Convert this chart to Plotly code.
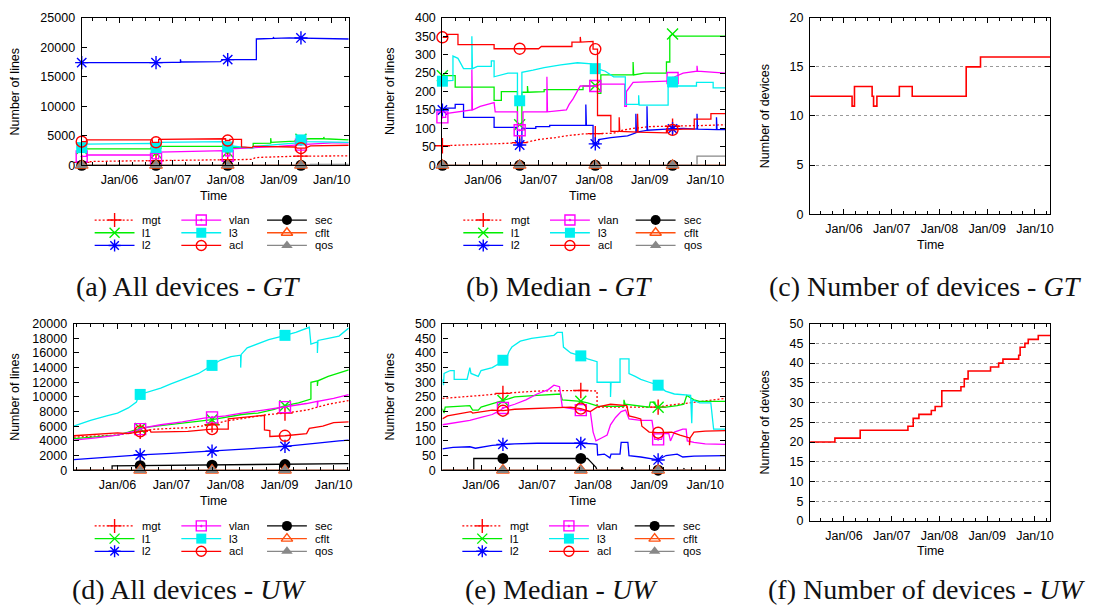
import plotly.graph_objects as go

W, H = 1110, 615

# ---------------- tick labels / categories ----------------
YEAR_TICKS = [2006, 2007, 2008, 2009, 2010]
YEAR_LABELS = ["Jan/06", "Jan/07", "Jan/08", "Jan/09", "Jan/10"]
SERIES = ["mgt", "l1", "l2", "vlan", "l3", "acl", "sec", "cflt", "qos"]

# ---------------- (a) All devices - GT : (time in years, number of lines) ----------------
A_MGT = [(2005.29, 500), (2005.5, 650), (2006.0, 720), (2006.69, 780), (2007.3, 850), (2007.8, 900),
         (2008.2, 950), (2008.5, 1000), (2008.55, 1250), (2008.65, 1350), (2009.0, 1450),
         (2009.42, 1550), (2010.32, 1600)]
A_L1 = [(2005.29, 2800), (2006.62, 2800), (2006.62, 2100), (2006.74, 2100), (2006.74, 3200),
        (2008.0, 3200), (2008.0, 2300), (2008.08, 2300), (2008.08, 3000), (2008.52, 3000),
        (2008.52, 3700), (2008.85, 3750), (2008.85, 4600), (2008.86, 3900), (2009.3, 4100),
        (2009.35, 4400), (2009.6, 4500), (2009.85, 4500), (2009.85, 4800), (2009.86, 4500),
        (2010.32, 4300)]
A_L2 = [(2005.29, 17400), (2006.0, 17350), (2006.69, 17400), (2007.0, 17450), (2007.15, 17450),
        (2007.15, 17950), (2007.16, 17500), (2007.9, 17550), (2007.95, 17900), (2008.58, 17900),
        (2008.58, 21400), (2008.9, 21500), (2008.9, 21750), (2008.91, 21500), (2009.2, 21600),
        (2009.7, 21550), (2010.32, 21400)]
A_VLAN = [(2005.29, 1500), (2005.38, 1500), (2005.38, 1750), (2006.62, 1750), (2006.62, 1100),
          (2006.74, 1100), (2006.74, 2250), (2008.0, 2500), (2008.0, 1600), (2008.08, 1600),
          (2008.08, 2800), (2008.6, 3000), (2009.0, 3200), (2009.42, 3500), (2010.0, 3800),
          (2010.32, 3800)]
A_L3 = [(2005.29, 3000), (2005.38, 3000), (2005.38, 3600), (2006.62, 3700), (2006.62, 3000),
        (2006.74, 3000), (2006.74, 3900), (2008.0, 4000), (2008.0, 3100), (2008.08, 3100),
        (2008.08, 3300), (2008.3, 3100), (2008.5, 2900), (2008.55, 3200), (2009.0, 3600),
        (2009.35, 3800), (2009.35, 4300), (2009.5, 4300), (2009.5, 4000), (2010.32, 3900)]
A_ACL = [(2005.29, 4000), (2005.38, 4000), (2005.38, 4300), (2006.62, 4300), (2006.62, 3900),
         (2006.74, 3900), (2006.74, 4400), (2008.0, 4500), (2008.0, 4200), (2008.08, 4200),
         (2008.08, 4400), (2008.3, 4400), (2008.3, 3100), (2008.5, 3000), (2008.52, 3200),
         (2009.3, 3100), (2009.35, 2900), (2009.5, 2900), (2009.6, 3300), (2010.32, 3400)]
A_SEC = [(2005.29, 0), (2010.32, 0)]
A_CFLT = [(2005.29, 0), (2010.32, 0)]
A_QOS = [(2005.29, 0), (2009.6, 0), (2009.6, 150), (2010.32, 150)]
A_MARKS = [2005.29, 2006.69, 2008.04, 2009.42]

# ---------------- (b) Median - GT ----------------
B_MGT = [(2005.27, 53), (2005.7, 55), (2006.2, 58), (2006.5, 60), (2006.8, 63), (2007.0, 70),
         (2007.3, 75), (2007.5, 80), (2007.8, 85), (2008.35, 87), (2008.5, 95), (2008.7, 100),
         (2009.0, 105), (2009.5, 106), (2010.0, 108), (2010.36, 110)]
B_L1 = [(2005.27, 243), (2005.5, 243), (2005.5, 212), (2006.2, 212), (2006.2, 176), (2006.33, 176),
        (2006.33, 200), (2006.62, 200), (2006.62, 110), (2006.7, 110), (2006.7, 198), (2006.8, 198),
        (2006.8, 215), (2006.81, 198), (2007.1, 200), (2007.1, 205), (2007.8, 205), (2007.8, 215),
        (2007.98, 215), (2008.06, 218), (2008.06, 195), (2008.12, 195), (2008.12, 245), (2008.7, 245),
        (2008.7, 280), (2008.71, 245), (2008.9, 250), (2009.3, 250), (2009.3, 280), (2009.36, 280),
        (2009.36, 350), (2009.41, 356), (2009.45, 350), (2010.36, 350)]
B_L2 = [(2005.27, 150), (2005.35, 155), (2005.5, 155), (2005.5, 165), (2005.65, 165), (2005.65, 130),
        (2006.2, 130), (2006.2, 103), (2006.62, 103), (2006.62, 55), (2006.7, 55), (2006.7, 100),
        (2006.95, 100), (2006.95, 105), (2007.2, 105), (2007.2, 108), (2007.85, 108), (2007.85, 165),
        (2007.86, 108), (2007.98, 108), (2007.98, 58), (2008.08, 58), (2008.08, 70), (2008.3, 75),
        (2008.6, 80), (2008.75, 88), (2008.75, 140), (2008.76, 90), (2008.95, 95), (2008.95, 160),
        (2008.96, 95), (2009.3, 98), (2009.6, 100), (2009.85, 98), (2009.85, 140), (2009.86, 98),
        (2010.2, 97), (2010.2, 130), (2010.21, 97), (2010.36, 97)]
B_VLAN = [(2005.27, 130), (2005.33, 130), (2005.33, 140), (2005.6, 145), (2005.8, 150), (2005.8, 260),
          (2005.81, 150), (2005.95, 160), (2006.2, 170), (2006.22, 145), (2006.62, 145), (2006.62, 95),
          (2006.72, 95), (2006.72, 145), (2007.15, 145), (2007.15, 240), (2007.16, 145), (2007.5, 150),
          (2007.55, 165), (2007.62, 180), (2007.75, 215), (2008.06, 215), (2008.1, 220), (2008.55, 220),
          (2008.55, 160), (2008.58, 160), (2008.58, 200), (2008.7, 225), (2009.3, 228), (2009.45, 240),
          (2009.6, 250), (2009.85, 255), (2009.85, 270), (2009.86, 255), (2010.36, 250)]
B_L3 = [(2005.27, 228), (2005.46, 230), (2005.46, 296), (2005.55, 290), (2005.65, 262), (2005.8, 262),
        (2005.8, 350), (2005.81, 262), (2005.9, 268), (2006.15, 268), (2006.15, 283), (2006.2, 283),
        (2006.2, 240), (2006.45, 250), (2006.62, 250), (2006.62, 175), (2006.7, 175), (2006.7, 252),
        (2006.9, 258), (2007.1, 265), (2007.4, 272), (2007.7, 278), (2007.95, 275), (2007.98, 262),
        (2008.06, 262), (2008.2, 255), (2008.35, 240), (2008.56, 240), (2008.56, 165), (2008.8, 165),
        (2008.8, 190), (2008.81, 163), (2009.33, 163), (2009.33, 210), (2009.38, 226), (2009.45, 226),
        (2009.45, 215), (2009.84, 215), (2009.84, 225), (2010.14, 225), (2010.14, 210), (2010.36, 210)]
B_ACL = [(2005.27, 347), (2005.35, 347), (2005.35, 355), (2005.55, 355), (2005.55, 327), (2006.2, 327),
         (2006.2, 316), (2007.0, 316), (2007.05, 322), (2007.6, 322), (2007.6, 334), (2007.75, 334),
         (2007.75, 348), (2007.76, 334), (2007.98, 336), (2007.98, 315), (2008.06, 315), (2008.06, 135),
         (2008.3, 135), (2008.3, 92), (2008.45, 92), (2008.45, 130), (2008.46, 92), (2008.78, 90),
         (2008.78, 140), (2008.79, 90), (2009.3, 88), (2009.3, 95), (2009.6, 98), (2009.8, 98),
         (2009.8, 125), (2010.1, 125), (2010.1, 140), (2010.36, 140)]
B_SEC = [(2005.27, 0), (2010.36, 0)]
B_CFLT = [(2005.27, 0), (2010.36, 0)]
B_QOS = [(2005.27, 0), (2009.85, 0), (2009.85, 25), (2010.36, 25)]
B_MARKS = [2005.27, 2006.66, 2008.02, 2009.41]

# ---------------- (c) Number of devices - GT ----------------
C_DEV = [(2005.29, 12), (2006.17, 11), (2006.22, 13), (2006.59, 12), (2006.62, 11), (2006.69, 12),
         (2007.16, 13), (2007.43, 12), (2008.56, 15), (2008.86, 16), (2010.32, 16)]

# ---------------- (d) All devices - UW ----------------
D_MGT = [(2005.19, 4500), (2006.0, 4800), (2006.42, 5300), (2006.7, 5600), (2007.3, 5800),
         (2007.75, 6200), (2008.0, 6700), (2008.4, 7200), (2008.8, 7600), (2009.1, 7800),
         (2009.5, 8200), (2009.65, 8500), (2009.9, 9000), (2010.2, 9400), (2010.28, 9500)]
D_L1 = [(2005.19, 4300), (2005.5, 4500), (2006.0, 4800), (2006.2, 5200), (2006.42, 5700),
        (2006.6, 5900), (2007.0, 6200), (2007.4, 6600), (2007.75, 6900), (2008.0, 7200),
        (2008.3, 7600), (2008.6, 7800), (2008.9, 8300), (2009.1, 8800), (2009.35, 9200),
        (2009.58, 9700), (2009.58, 12000), (2009.7, 12200), (2009.7, 11500), (2009.71, 12200),
        (2009.9, 12800), (2010.1, 13300), (2010.28, 13700)]
D_L2 = [(2005.19, 1450), (2005.6, 1700), (2006.2, 2000), (2006.42, 2100), (2007.0, 2300),
        (2007.75, 2600), (2008.3, 2800), (2008.6, 3000), (2009.1, 3250), (2009.5, 3500),
        (2009.7, 3700), (2010.1, 4000), (2010.28, 4100)]
D_VLAN = [(2005.19, 4100), (2005.6, 4400), (2006.0, 4800), (2006.3, 5300), (2006.5, 5800),
          (2006.8, 6200), (2007.2, 6600), (2007.6, 7100), (2008.0, 7400), (2008.3, 7800),
          (2008.7, 8200), (2009.0, 8500), (2009.2, 8700), (2009.5, 9100), (2009.7, 9400),
          (2009.7, 8600), (2009.71, 9400), (2010.0, 9800), (2010.28, 10300)]
D_L3 = [(2005.19, 6000), (2005.5, 6800), (2005.8, 7400), (2006.0, 7800), (2006.2, 8500),
        (2006.35, 9300), (2006.4, 10300), (2006.6, 10700), (2006.8, 11200), (2007.0, 11800),
        (2007.3, 12600), (2007.5, 13200), (2007.75, 14300), (2007.9, 15000), (2008.1, 15500),
        (2008.28, 15700), (2008.28, 14000), (2008.29, 15800), (2008.4, 16700), (2008.6, 17300),
        (2008.8, 17800), (2009.0, 18200), (2009.3, 18800), (2009.55, 19500), (2009.58, 17200),
        (2009.7, 17500), (2009.7, 16000), (2009.71, 17700), (2009.9, 18000), (2010.1, 18300),
        (2010.28, 19400)]
D_ACL = [(2005.19, 4700), (2005.7, 4900), (2006.0, 5100), (2006.2, 5000), (2006.42, 5300),
         (2006.6, 5500), (2006.62, 5200), (2007.3, 5300), (2007.75, 5600), (2008.05, 5600),
         (2008.05, 7000), (2008.4, 7200), (2008.6, 7400), (2008.72, 7500), (2008.72, 5500),
         (2008.82, 5400), (2008.82, 4600), (2009.1, 4700), (2009.3, 4800), (2009.5, 5000),
         (2009.55, 5700), (2009.8, 6000), (2010.0, 6500), (2010.28, 6600)]
D_SEC = [(2005.19, 0), (2005.9, 0), (2005.9, 600), (2007.0, 650), (2008.0, 700), (2009.0, 750),
         (2009.5, 850), (2010.28, 900)]
D_CFLT = [(2005.19, 0), (2010.28, 0)]
D_QOS = [(2005.19, 0), (2010.28, 0)]
D_MARKS = [2006.42, 2007.75, 2009.10]

# ---------------- (e) Median - UW ----------------
E_MGT = [(2005.31, 245), (2005.7, 250), (2006.0, 255), (2006.39, 262), (2006.6, 265), (2007.0, 270),
         (2007.78, 272), (2008.07, 270), (2008.07, 215), (2009.16, 215), (2009.3, 220),
         (2009.5, 225), (2009.7, 230), (2009.9, 235), (2010.1, 240), (2010.36, 245)]
E_L1 = [(2005.31, 210), (2005.34, 195), (2005.36, 215), (2005.8, 220), (2005.85, 205), (2005.95, 205),
        (2006.0, 215), (2006.25, 230), (2006.39, 238), (2006.6, 250), (2007.0, 255), (2007.3, 258),
        (2007.42, 260), (2007.45, 240), (2007.78, 235), (2007.9, 230), (2008.0, 225), (2008.1, 218),
        (2008.55, 218), (2008.55, 240), (2008.57, 225), (2008.8, 220), (2009.0, 215), (2009.02, 232),
        (2009.1, 232), (2009.12, 215), (2009.3, 215), (2009.5, 220), (2009.62, 225), (2009.67, 255),
        (2009.8, 240), (2009.9, 235), (2010.36, 235)]
E_L2 = [(2005.31, 73), (2005.5, 78), (2005.8, 80), (2005.9, 75), (2006.2, 85), (2006.39, 88),
        (2006.6, 90), (2007.0, 92), (2007.5, 93), (2007.78, 92), (2008.0, 90), (2008.07, 88),
        (2008.08, 52), (2008.2, 55), (2008.3, 42), (2008.32, 55), (2008.48, 55), (2008.5, 95),
        (2008.62, 95), (2008.64, 50), (2008.85, 45), (2009.0, 40), (2009.16, 35), (2009.3, 50),
        (2009.5, 55), (2009.6, 45), (2009.8, 48), (2010.36, 50)]
E_VLAN = [(2005.31, 155), (2005.5, 160), (2005.8, 170), (2006.0, 180), (2006.2, 190), (2006.35, 205),
          (2006.39, 212), (2006.6, 225), (2006.8, 240), (2007.0, 260), (2007.2, 275), (2007.3, 290),
          (2007.4, 285), (2007.45, 215), (2007.6, 210), (2007.78, 205), (2007.95, 200), (2008.0, 130),
          (2008.05, 100), (2008.15, 110), (2008.25, 120), (2008.31, 155), (2008.4, 180), (2008.5, 200),
          (2008.58, 205), (2008.64, 175), (2008.85, 170), (2009.05, 170), (2009.1, 105),
          (2009.22, 105), (2009.25, 125), (2009.35, 125), (2009.38, 100), (2009.45, 130),
          (2009.6, 140), (2009.66, 140), (2009.68, 100), (2009.8, 95), (2010.0, 90), (2010.36, 88)]
E_L3 = [(2005.31, 310), (2005.33, 290), (2005.34, 330), (2005.45, 340), (2005.52, 340), (2005.52, 310),
        (2005.75, 310), (2005.8, 350), (2005.82, 330), (2005.95, 320), (2006.0, 340), (2006.2, 350),
        (2006.33, 365), (2006.39, 375), (2006.45, 380), (2006.5, 405), (2006.55, 420), (2006.7, 440),
        (2006.9, 450), (2007.1, 455), (2007.3, 460), (2007.36, 470), (2007.45, 470), (2007.47, 420),
        (2007.6, 400), (2007.78, 390), (2007.9, 380), (2008.07, 370), (2008.07, 300), (2008.31, 300),
        (2008.31, 250), (2008.32, 300), (2008.48, 300), (2008.48, 380), (2008.64, 380),
        (2008.64, 330), (2008.75, 320), (2008.85, 310), (2009.0, 300), (2009.16, 290),
        (2009.29, 270), (2009.45, 260), (2009.74, 255), (2009.76, 160), (2009.77, 240),
        (2009.9, 230), (2010.1, 230), (2010.15, 140), (2010.36, 140)]
E_ACL = [(2005.31, 175), (2005.4, 185), (2005.82, 200), (2005.85, 195), (2006.2, 205), (2006.39, 203),
         (2006.6, 208), (2007.0, 210), (2007.4, 212), (2007.6, 215), (2007.78, 210), (2007.95, 200),
         (2008.07, 215), (2008.31, 225), (2008.6, 220), (2008.64, 185), (2008.75, 180),
         (2008.85, 175), (2008.87, 150), (2009.0, 130), (2009.16, 128), (2009.4, 130),
         (2009.55, 120), (2009.72, 110), (2009.72, 85), (2009.73, 110), (2009.8, 130),
         (2010.0, 133), (2010.36, 135)]
E_SEC = [(2005.31, 0), (2005.87, 0), (2005.87, 40), (2007.9, 40), (2007.95, 30), (2008.05, 10),
         (2008.07, 0), (2008.5, 0), (2008.52, 8), (2008.55, 0), (2009.6, 0), (2009.62, 5),
         (2009.65, 0), (2010.36, 0)]
E_CFLT = [(2005.31, 0), (2010.36, 0)]
E_QOS = [(2005.31, 0), (2010.36, 0)]
E_MARKS = [2006.39, 2007.78, 2009.16]

# ---------------- (f) Number of devices - UW ----------------
F_DEV = [(2005.29, 20), (2005.81, 21), (2006.34, 23), (2007.34, 24), (2007.45, 26), (2007.57, 27),
         (2007.83, 28), (2007.91, 29), (2008.05, 33), (2008.45, 34), (2008.52, 36), (2008.6, 38),
         (2009.07, 39), (2009.24, 40), (2009.33, 41), (2009.66, 42), (2009.69, 44), (2009.79, 45),
         (2009.86, 46), (2010.07, 47), (2010.32, 47)]

# ---------------- styles ----------------
STYLE = {
    "mgt": dict(color="#ff0000", dash="2px,2px", symbol="cross-thin-open", fill=False),
    "l1": dict(color="#00ee00", dash="solid", symbol="x-thin-open", fill=False),
    "l2": dict(color="#0000ff", dash="solid", symbol="asterisk-open", fill=False),
    "vlan": dict(color="#ff00ff", dash="solid", symbol="square-open-dot", fill=False),
    "l3": dict(color="#00f0f0", dash="solid", symbol="square", fill=True),
    "acl": dict(color="#ff0000", dash="solid", symbol="circle-open", fill=False),
    "sec": dict(color="#000000", dash="solid", symbol="circle", fill=True),
    "cflt": dict(color="#ff5010", dash="solid", symbol="triangle-up-open", fill=False),
    "qos": dict(color="#888888", dash="solid", symbol="triangle-up", fill=True),
}
FONT = "Liberation Sans"
SERIF = "Liberation Serif"


def value_at(pts, x):
    for i in range(len(pts) - 1, -1, -1):
        if pts[i][0] <= x + 1e-9:
            if i == len(pts) - 1:
                return pts[i][1]
            t0, v0 = pts[i]
            t1, v1 = pts[i + 1]
            if t1 == t0:
                return v1
            return v0 + (v1 - v0) * (x - t0) / (t1 - t0)
    return pts[0][1]


def marker_style(s, size=11):
    st = STYLE[s]
    if st["fill"]:
        return dict(symbol=st["symbol"], size=size, color=st["color"], line=dict(width=0))
    return dict(symbol=st["symbol"], size=size, color=st["color"], line=dict(color=st["color"], width=1.4))


PANELS = [
    dict(box=(82, 11, 350, 162), xr=(2005.29, 2010.32), yr=(0, 25000), dt=5000, grid=False,
         ytitle="Number of lines", ytx=15, ttl=(214, 193),
         data=dict(mgt=A_MGT, l1=A_L1, l2=A_L2, vlan=A_VLAN, l3=A_L3, acl=A_ACL, sec=A_SEC, cflt=A_CFLT, qos=A_QOS),
         marks=A_MARKS),
    dict(box=(444, 11, 728, 162), xr=(2005.27, 2010.36), yr=(0, 400), dt=50, grid=False,
         ytitle="Number of lines", ytx=391, ttl=(585, 193),
         data=dict(mgt=B_MGT, l1=B_L1, l2=B_L2, vlan=B_VLAN, l3=B_L3, acl=B_ACL, sec=B_SEC, cflt=B_CFLT, qos=B_QOS),
         marks=B_MARKS),
    dict(box=(813, 11, 1054, 212), xr=(2005.29, 2010.32), yr=(0, 20), dt=5, grid=True,
         ytitle="Number of devices", ytx=768, ttl=(934, 244), dev=C_DEV),
    dict(box=(74, 324, 350, 474), xr=(2005.19, 2010.28), yr=(0, 20000), dt=2000, grid=False,
         ytitle="Number of lines", ytx=15, ttl=(214, 505),
         data=dict(mgt=D_MGT, l1=D_L1, l2=D_L2, vlan=D_VLAN, l3=D_L3, acl=D_ACL, sec=D_SEC, cflt=D_CFLT, qos=D_QOS),
         marks=D_MARKS),
    dict(box=(444, 324, 728, 474), xr=(2005.31, 2010.36), yr=(0, 500), dt=50, grid=False,
         ytitle="Number of lines", ytx=391, ttl=(585, 505),
         data=dict(mgt=E_MGT, l1=E_L1, l2=E_L2, vlan=E_VLAN, l3=E_L3, acl=E_ACL, sec=E_SEC, cflt=E_CFLT, qos=E_QOS),
         marks=E_MARKS),
    dict(box=(813, 324, 1054, 526), xr=(2005.29, 2010.32), yr=(0, 50), dt=5, grid=True,
         ytitle="Number of devices", ytx=768, ttl=(934, 557), dev=F_DEV),
]

CAPTIONS = [
    ("(a) All devices - <i>GT</i>", 189, 286),
    ("(b) Median - <i>GT</i>", 562, 286),
    ("(c) Number of devices - <i>GT</i>", 929, 286),
    ("(d) All devices - <i>UW</i>", 190, 596),
    ("(e) Median - <i>UW</i>", 564, 596),
    ("(f) Number of devices - <i>UW</i>", 930, 596),
]

LEGENDS = [  # column x starts, row y centres
    ((95, 182, 268), (218, 231, 244)),
    ((465, 552, 638), (218, 231, 244)),
    ((95, 182, 268), (531, 544, 557)),
    ((464, 551, 637), (531, 544, 557)),
]

fig = go.Figure()
layout = dict(width=W, height=H, autosize=False, margin=dict(l=0, r=0, t=0, b=0),
              paper_bgcolor="white", plot_bgcolor="rgba(0,0,0,0)", showlegend=False,
              font=dict(family=FONT, size=12.5, color="#000"))
annotations = []


def px(x):
    return x / W


def py(y):
    return 1 - y / H


def label(text, x, y, size=12.5, family=FONT, xanchor="center", angle=0, color="#000"):
    annotations.append(dict(text=text, x=px(x), y=py(y), xref="paper", yref="paper",
                            xanchor=xanchor, yanchor="middle", showarrow=False, textangle=angle,
                            borderpad=0, font=dict(size=size, family=family, color=color)))


for i, p in enumerate(PANELS):
    n = i + 1
    xa, ya = f"x{n}", f"y{n}"
    x0, y0, x1, y1 = p["box"]
    layout[f"xaxis{n}"] = dict(
        domain=[px(x0), px(x1)], range=list(p["xr"]), anchor=ya,
        tickmode="array", tickvals=YEAR_TICKS, ticktext=YEAR_LABELS,
        ticks="inside", ticklen=5, tickwidth=1, tickcolor="#000",
        minor=dict(ticks="inside", ticklen=3, tick0=2006, dtick=0.25, tickcolor="#000"),
        showline=True, linecolor="#000", linewidth=1.2, mirror="allticks",
        showgrid=False, zeroline=False, fixedrange=True, ticklabelstandoff=3,
        tickfont=dict(size=12.5, family=FONT, color="#000"))
    layout[f"yaxis{n}"] = dict(
        domain=[py(y1), py(y0)], range=list(p["yr"]), anchor=xa,
        tickmode="linear", tick0=0, dtick=p["dt"], tickformat="d",
        ticks="inside", ticklen=5, tickwidth=1, tickcolor="#000",
        showline=True, linecolor="#000", linewidth=1.2, mirror="allticks",
        showgrid=p["grid"], gridcolor="#999999", griddash="dot", gridwidth=1,
        zeroline=False, fixedrange=True, ticklabelstandoff=3,
        tickfont=dict(size=12.5, family=FONT, color="#000"))
    label(p["ytitle"], p["ytx"], (y0 + y1) / 2, angle=-90)
    label("Time", p["ttl"][0], p["ttl"][1])
    if "dev" in p:
        pts = p["dev"]
        fig.add_trace(go.Scatter(x=[q[0] for q in pts], y=[q[1] for q in pts], mode="lines",
                                 line=dict(color="#ff0000", width=1.6, shape="hv"),
                                 xaxis=xa, yaxis=ya, hoverinfo="skip"))
        continue
    for s in SERIES:
        pts = p["data"][s]
        st = STYLE[s]
        fig.add_trace(go.Scatter(x=[q[0] for q in pts], y=[q[1] for q in pts], mode="lines",
                                 line=dict(color=st["color"], width=1.3, dash=st["dash"]),
                                 xaxis=xa, yaxis=ya, hoverinfo="skip"))
        fig.add_trace(go.Scatter(x=p["marks"], y=[value_at(pts, t) for t in p["marks"]],
                                 mode="markers", marker=marker_style(s), cliponaxis=False,
                                 xaxis=xa, yaxis=ya, hoverinfo="skip"))

# overlay pixel axis used for the legend samples
layout["xaxis7"] = dict(domain=[0, 1], range=[0, W], anchor="y7", visible=False, fixedrange=True)
layout["yaxis7"] = dict(domain=[0, 1], range=[H, 0], anchor="x7", visible=False, fixedrange=True)

for cols, rows in LEGENDS:
    for k, s in enumerate(SERIES):
        c, r = divmod(k, 3)
        lx, ly = cols[c], rows[r]
        st = STYLE[s]
        fig.add_trace(go.Scatter(x=[lx, lx + 40], y=[ly, ly], mode="lines",
                                 line=dict(color=st["color"], width=1.3, dash=st["dash"]),
                                 xaxis="x7", yaxis="y7", hoverinfo="skip"))
        fig.add_trace(go.Scatter(x=[lx + 20], y=[ly], mode="markers", marker=marker_style(s, 10),
                                 xaxis="x7", yaxis="y7", hoverinfo="skip", cliponaxis=False))
        label(s, lx + 47, ly, size=11.2, xanchor="left")

for text, cx, cy in CAPTIONS:
    label(text, cx, cy, size=28, family=SERIF, color="#111")

layout["annotations"] = annotations
fig.update_layout(**layout)
fig.write_html("out.html", post_script="document.body.style.margin='0px';",
               config={"displayModeBar": False})
